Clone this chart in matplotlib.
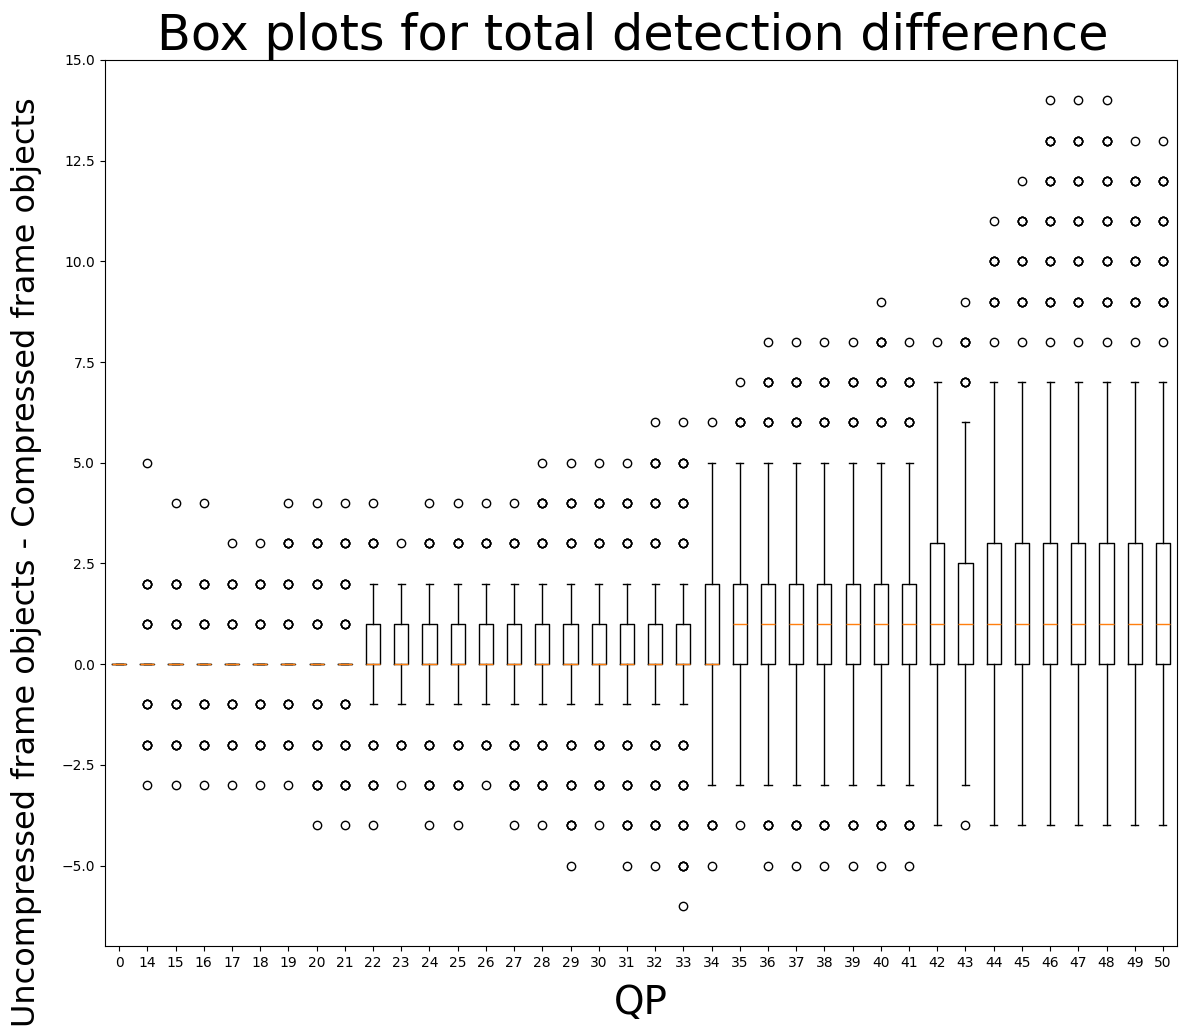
import matplotlib
matplotlib.use("Agg")
import matplotlib.pyplot as plt

# QP categories (x tick labels)
qp = ["0"] + [str(q) for q in range(14, 51)]

# box statistics
q1 = [0] * 38
med = [0] * 22 + [1] * 16
q3 = ([0] * 9 + [1] * 12 + [2] * 8 + [3, 2.5] + [3] * 7)
whislo = ([0] * 9 + [-1] * 12 + [-3] * 8 + [-4, -3] + [-4] * 7)
whishi = ([0] * 9 + [2] * 12 + [5] * 8 + [7, 6] + [7] * 7)

# outlier values per QP
fliers = [
    [],                                   # 0
    [5, 2, 1, -1, -2, -3],                # 14
    [4, 2, 1, -1, -2, -3],                # 15
    [4, 2, 1, -1, -2, -3],                # 16
    [3, 2, 1, -1, -2, -3],                # 17
    [3, 2, 1, -1, -2, -3],                # 18
    [4, 3, 2, 1, -1, -2, -3],             # 19
    [4, 3, 2, 1, -1, -2, -3, -4],         # 20
    [4, 3, 2, 1, -1, -2, -3, -4],         # 21
    [4, 3, -2, -3, -4],                   # 22
    [3, -2, -3],                          # 23
    [4, 3, -2, -3, -4],                   # 24
    [4, 3, -2, -3, -4],                   # 25
    [4, 3, -2, -3],                       # 26
    [4, 3, -2, -3, -4],                   # 27
    [5, 4, 3, -2, -3, -4],                # 28
    [5, 4, 3, -2, -3, -4, -5],            # 29
    [5, 4, 3, -2, -3, -4],                # 30
    [5, 4, 3, -2, -3, -4, -5],            # 31
    [6, 5, 4, 3, -2, -3, -4, -5],         # 32
    [6, 5, 4, 3, -2, -3, -4, -5, -6],     # 33
    [6, -4, -5],                          # 34
    [7, 6, -4],                           # 35
    [8, 7, 6, -4, -5],                    # 36
    [8, 7, 6, -4, -5],                    # 37
    [8, 7, 6, -4, -5],                    # 38
    [8, 7, 6, -4, -5],                    # 39
    [9, 8, 7, 6, -4, -5],                 # 40
    [8, 7, 6, -4, -5],                    # 41
    [8],                                  # 42
    [9, 8, 7, -4],                        # 43
    [11, 10, 9, 8],                       # 44
    [12, 11, 10, 9, 8],                   # 45
    [14, 13, 12, 11, 10, 9, 8],           # 46
    [14, 13, 12, 11, 10, 9, 8],           # 47
    [14, 13, 12, 11, 10, 9, 8],           # 48
    [13, 12, 11, 10, 9, 8],               # 49
    [13, 12, 11, 10, 9, 8],               # 50
]

stats = []
for i in range(len(qp)):
    fl = fliers[i]
    # inner outliers occur many times -> heavier rings; extremes once
    pts = []
    if fl:
        hi, lo = max(fl), min(fl)
        for v in fl:
            pts += [v] if v in (hi, lo) else [v] * 4
    stats.append(dict(med=med[i], q1=q1[i], q3=q3[i],
                      whislo=whislo[i], whishi=whishi[i],
                      fliers=pts, label=qp[i]))

fig = plt.figure(figsize=(11.8, 10.34), dpi=100)
ax = fig.add_axes([0.089, 0.085, 0.9085, 0.857])
ax.bxp(stats)
ax.set_ylim(-7, 15)
ax.set_title("Box plots for total detection difference", fontsize=35.5, x=0.4925)
ax.set_xlabel("QP", fontsize=28, labelpad=10)
ax.set_ylabel("Uncompressed frame objects - Compressed frame objects", fontsize=23)
ax.yaxis.set_label_coords(-0.059, 0.433)
fig.savefig("out.png")
